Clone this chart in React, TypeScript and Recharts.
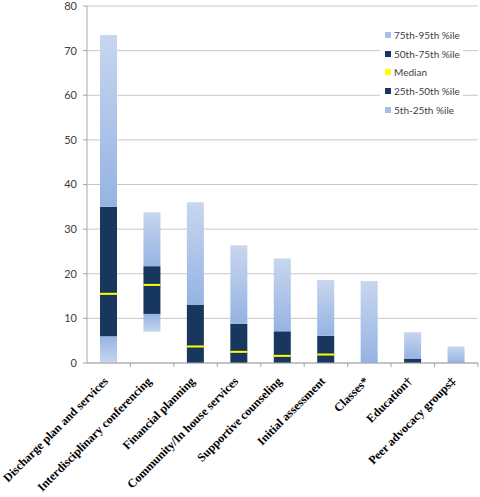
import React from "react";
import { BarChart, Bar, CartesianGrid, XAxis, YAxis, Legend } from "recharts";

const categories = [
  "Discharge plan and services",
  "Interdisciplinary conferencing",
  "Financial planning",
  "Community/In house services",
  "Supportive counseling",
  "Initial assessment",
  "Classes*",
  "Education†",
  "Peer advocacy groups‡"
];
const p5 = [0, 7, 0, 0, 0, 0, 0, 0, 0];
const p25 = [6, 11, 0, 0, 0, 0, 0, 0, 0];
const median: (number | null)[] = [15.5, 17.5, 3.7, 2.5, 1.6, 1.9, null, null, null];
const p75 = [35, 21.7, 13, 8.8, 7.1, 6.1, 0, 0.9, 0];
const p95 = [73.5, 33.8, 36, 26.4, 23.4, 18.6, 18.4, 6.9, 3.7];
const yTicks = [0, 10, 20, 30, 40, 50, 60, 70, 80];

const data = categories.map((name, i) => ({
  name,
  base: p5[i],
  low: p25[i] - p5[i],
  mid: p75[i] - p25[i],
  high: p95[i] - p75[i],
  median: median[i]
}));

const DARK = "#17375e";
const LIGHT = "#a7bfe8";

const legendItems = [
  { label: "75th-95th %ile", color: LIGHT },
  { label: "50th-75th %ile", color: DARK },
  { label: "Median", color: "#ffff00" },
  { label: "25th-50th %ile", color: DARK },
  { label: "5th-25th %ile", color: LIGHT }
];

const LegendBox = () => (
  <div style={{ background: "#ffffff", padding: "3px 4px 6px 5px", width: 74 }}>
    {legendItems.map((it) => (
      <div
        key={it.label}
        style={{
          display: "flex",
          alignItems: "center",
          height: 18.6,
          fontFamily: "Lato, sans-serif",
          fontSize: 10,
          color: "#404040",
          whiteSpace: "nowrap"
        }}
      >
        <span
          style={{
            display: "inline-block",
            flexShrink: 0,
            width: 6,
            height: 6,
            background: it.color,
            marginRight: 3
          }}
        />
        {it.label}
      </div>
    ))}
  </div>
);

const CategoryTick = (props: any) => {
  const { x, y, payload } = props;
  return (
    <g>
      <line x1={x + 21.7} y1={363} x2={x + 21.7} y2={367} stroke="#a6a6a6" />
      <text
        transform={`translate(${x},${y + 17}) rotate(-45)`}
        textAnchor="end"
        fontFamily="'Liberation Serif', 'Times New Roman', serif"
        fontWeight="bold"
        fontSize={12}
        fill="#000000"
      >
        {payload.value}
      </text>
    </g>
  );
};

const MedianShape = (props: any) => {
  const { x, y, width } = props;
  if (x == null || y == null) return null;
  return <rect x={x} y={y - 1} width={width} height={2} fill="#ffff00" />;
};

export default function App() {
  return (
    <div style={{ position: "absolute", left: 0, top: 0, background: "#ffffff" }}>
      <BarChart width={480} height={497} data={data} margin={{ top: 6, right: 2, bottom: 0, left: 0 }} barSize={17}>
        <defs>
          <linearGradient id="gHigh" x1="0" y1="0" x2="0" y2="1">
            <stop offset="0%" stopColor="#c8d6ef" />
            <stop offset="100%" stopColor="#95b3e3" />
          </linearGradient>
          <linearGradient id="gLow" x1="0" y1="0" x2="0" y2="1">
            <stop offset="0%" stopColor="#95b3e3" />
            <stop offset="100%" stopColor="#c8d6ef" />
          </linearGradient>
        </defs>
        <CartesianGrid vertical={false} stroke="#c8c8c8" />
        <XAxis
          dataKey="name"
          interval={0}
          height={134}
          tick={<CategoryTick />}
          tickLine={false}
          tickSize={0}
          axisLine={{ stroke: "#a6a6a6" }}
          tickMargin={2}
        />
        <XAxis dataKey="name" xAxisId="med" hide />
        <YAxis
          width={87}
          domain={[0, 80]}
          ticks={yTicks}
          interval={0}
          tickSize={4}
          tickMargin={6}
          tick={{ fontFamily: "Lato, sans-serif", fontSize: 11, fill: "#404040" }}
          tickLine={{ stroke: "#a6a6a6" }}
          axisLine={{ stroke: "#a6a6a6" }}
        />
        <Legend
          layout="vertical"
          align="center"
          verticalAlign="middle"
          content={<LegendBox />}
          wrapperStyle={{ left: 380, top: 23, width: 84 }}
        />
        <Bar dataKey="base" stackId="s" fill="transparent" isAnimationActive={false} />
        <Bar dataKey="low" stackId="s" fill="url(#gLow)" isAnimationActive={false} />
        <Bar dataKey="mid" stackId="s" fill={DARK} isAnimationActive={false} />
        <Bar dataKey="high" stackId="s" fill="url(#gHigh)" isAnimationActive={false} />
        <Bar dataKey="median" xAxisId="med" shape={<MedianShape />} isAnimationActive={false} />
      </BarChart>
    </div>
  );
}
